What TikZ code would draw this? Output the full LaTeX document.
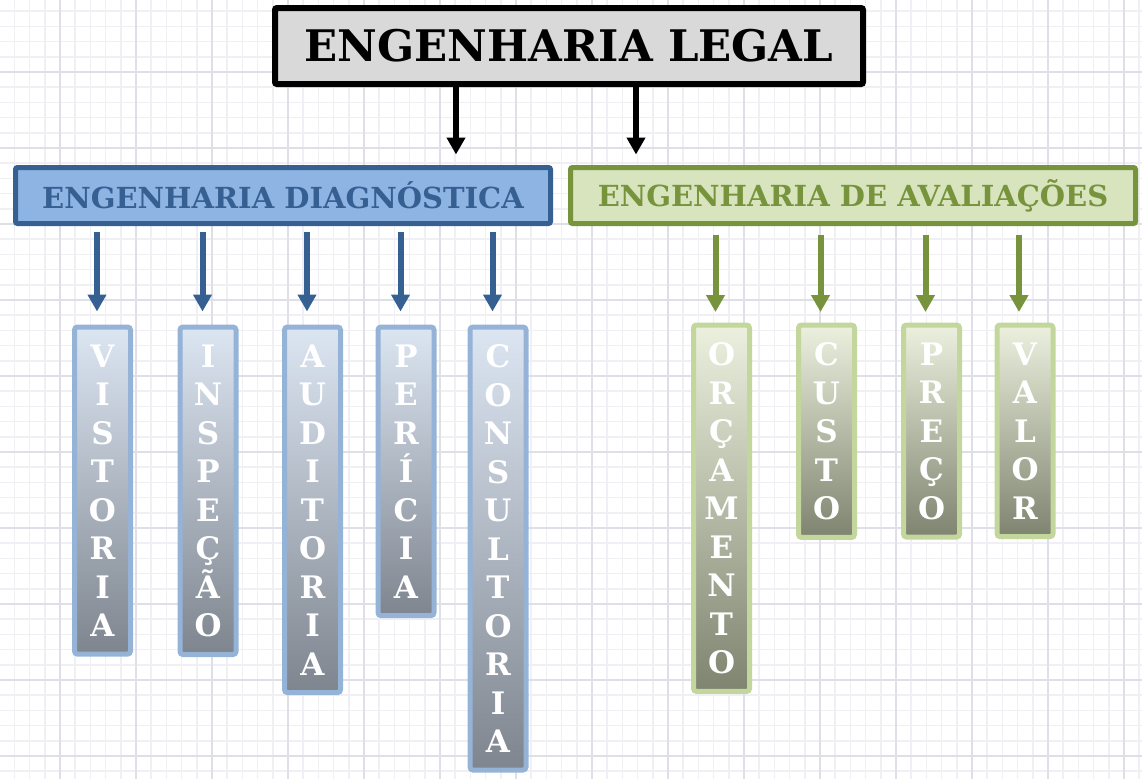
\documentclass[tikz,border=0pt]{standalone}
\usepackage{fontspec}
\setmainfont{DejaVu Serif}
\usepackage{tikz}
\usetikzlibrary{positioning, arrows.meta, calc}
\usepackage{xcolor}

\definecolor{blueDark}{HTML}{376092}
\definecolor{blueFill}{HTML}{8EB4E3}
\definecolor{blueEdge}{HTML}{95B3D7}
\definecolor{blueTop}{HTML}{DCE6F2}
\definecolor{blueBottom}{HTML}{7E858F}
\definecolor{greenDark}{HTML}{77933C}
\definecolor{greenFill}{HTML}{D7E4BD}
\definecolor{greenEdge}{HTML}{C3D69B}
\definecolor{greenTop}{HTML}{EBF1DE}
\definecolor{greenBottom}{HTML}{7F8470}
\definecolor{titleFill}{HTML}{D9D9D9}
\definecolor{gridMajor}{HTML}{DFDFE7}
\definecolor{gridMinor}{HTML}{F0F0F4}

\begin{document}
\begin{tikzpicture}[
    x=1pt, y=-1pt,
    titlebox/.style={draw=black, fill=titleFill, line width=6pt, rounded corners=2pt,
        minimum width=588pt, minimum height=76pt, inner sep=0pt,
        font=\bfseries\fontsize{43.5}{48}\selectfont},
    branch/.style={line width=5pt, rounded corners=2pt, minimum height=56pt, inner sep=0pt,
        font=\bfseries\fontsize{29}{32}\selectfont},
    letters/.style={line width=5pt, rounded corners=3pt, anchor=north, align=center,
        minimum width=56pt, inner xsep=0pt, inner ysep=17.5pt, text=white,
        font=\bfseries\fontsize{31}{38.5}\selectfont},
    diagleaf/.style={letters, draw=blueEdge, top color=blueTop, bottom color=blueBottom},
    avalleaf/.style={letters, draw=greenEdge, top color=greenTop, bottom color=greenBottom},
    mainarrow/.style={draw=black, line width=5.5pt, -{Triangle[width=18pt,length=17pt]},
        shorten >=10.5pt},
    diagarrow/.style={draw=blueDark, line width=6pt, -{Triangle[width=18pt,length=17pt]},
        shorten <=5.5pt, shorten >=13pt},
    avalarrow/.style={draw=greenDark, line width=6pt, -{Triangle[width=18pt,length=17pt]},
        shorten <=8.5pt, shorten >=10.5pt}
]
    \useasboundingbox (0,0) rectangle (1142,779);
    % graph paper behind everything
    \foreach \gx in {-0.8,14.4,...,1142} \draw[gridMinor, line width=1.5pt] (\gx,0) -- (\gx,779);
    \foreach \gy in {-4,11.2,...,779} \draw[gridMinor, line width=1.5pt] (0,\gy) -- (1142,\gy);
    \foreach \gx in {-16,60,...,1142} \draw[gridMajor, line width=2pt] (\gx,0) -- (\gx,779);
    \foreach \gy in {-4,72,...,779} \draw[gridMajor, line width=2pt] (0,\gy) -- (1142,\gy);

    % top level
    \node[titlebox] (legal) at (569,46) {ENGENHARIA LEGAL};

    % the two branches
    \node[branch, draw=blueDark, fill=blueFill, text=blueDark, minimum width=535pt]
        (diag) at (283,195.5) {ENGENHARIA DIAGNÓSTICA};
    \node[branch, draw=greenDark, fill=greenFill, text=greenDark, minimum width=565pt]
        (aval) at (853,195.5) {ENGENHARIA DE AVALIAÇÕES};

    \coordinate (ldrop) at (456,0);
    \coordinate (rdrop) at (636,0);
    \draw[mainarrow] (legal.south -| ldrop) -- (diag.north -| ldrop);
    \draw[mainarrow] (legal.south -| rdrop) -- (aval.north -| rdrop);

    % diagnostic leaves
    \node[diagleaf] (vist) at (102.5,324.5) {V\\I\\S\\T\\O\\R\\I\\A};
    \node[diagleaf] (insp) at (208,324.5) {I\\N\\S\\P\\E\\Ç\\Ã\\O};
    \node[diagleaf] (audi) at (312.5,324.5) {A\\U\\D\\I\\T\\O\\R\\I\\A};
    \node[diagleaf] (peri) at (406,324.5) {P\\E\\R\\Í\\C\\I\\A};
    \node[diagleaf] (cons) at (498,324.5) {C\\O\\N\\S\\U\\L\\T\\O\\R\\I\\A};

    % valuation leaves
    \node[avalleaf] (orca) at (721.5,322.5) {O\\R\\Ç\\A\\M\\E\\N\\T\\O};
    \node[avalleaf] (cust) at (826.5,322.5) {C\\U\\S\\T\\O};
    \node[avalleaf] (prec) at (931.5,322.5) {P\\R\\E\\Ç\\O};
    \node[avalleaf] (valo) at (1025,322.5) {V\\A\\L\\O\\R};

    \foreach \leaf in {vist, insp, audi, peri, cons}
        \draw[diagarrow] ([xshift=-5.5pt]diag.south -| \leaf.north) -- ([xshift=-5.5pt]\leaf.north);
    \foreach \leaf in {orca, cust, prec, valo}
        \draw[avalarrow] ([xshift=-6pt]aval.south -| \leaf.north) -- ([xshift=-6pt]\leaf.north);
\end{tikzpicture}
\end{document}
